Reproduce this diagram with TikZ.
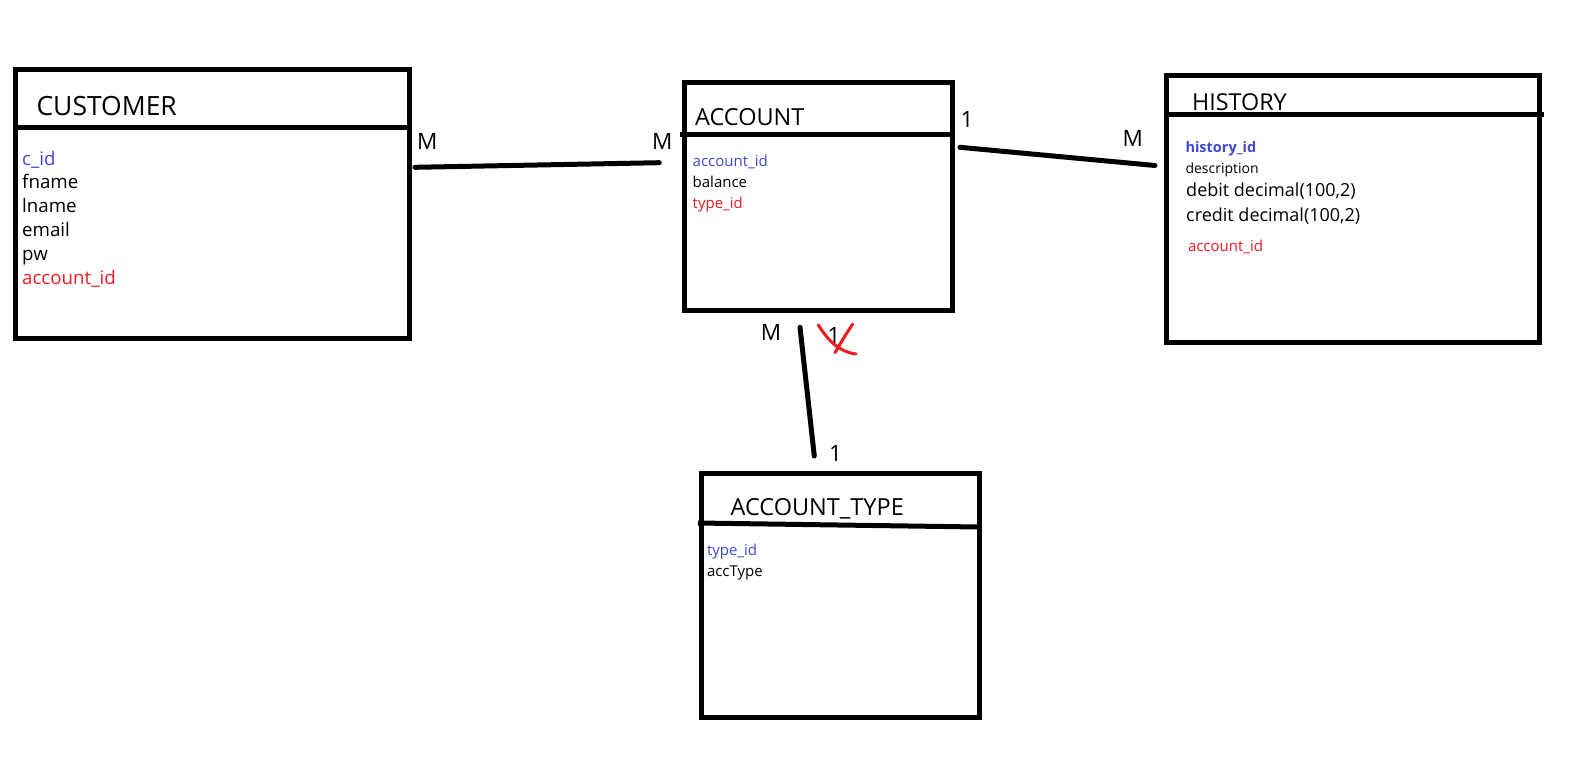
\documentclass[tikz,border=0pt]{standalone}
\usepackage{fontspec}
\setmainfont{Open Sans}
\definecolor{pkblue}{RGB}{63,72,204}
\definecolor{fkred}{RGB}{237,28,36}
\tikzset{
  tbl/.style={draw, line width=5pt, rectangle, inner sep=0pt, outer sep=0pt, anchor=north west},
  divider/.style={line width=5pt},
  rel/.style={line width=5pt, line cap=round},
  card/.style={anchor=base west, inner sep=0pt, font=\fontsize{22.5}{26}\selectfont},
  ttl/.style={anchor=base west, inner sep=0pt},
  attr/.style={anchor=base west, inner sep=0pt},
  cross/.style={draw=fkred, line width=3pt, line cap=round},
}
\begin{document}
\begin{tikzpicture}[x=1pt,y=-1pt]
\useasboundingbox (0,0) rectangle (1586,761);

% ---------- CUSTOMER ----------
\node[tbl, minimum width=393.7pt, minimum height=268.7pt] (cust) at (15.3,69.3) {};
\draw[divider] (cust.west |- 0,127.7) -- (cust.east |- 0,127.7);
\node[ttl, font=\fontsize{26.5}{30}\selectfont] (custT) at (36.3,115) {CUSTOMER};
\begin{scope}[every node/.style={attr, font=\fontsize{18.7}{22}\selectfont}]
\node[text=pkblue] (c1) at (22,165) {c\_id};
\node (c2) at (22,188.7) {fname};
\node (c3) at (22,212.5) {lname};
\node (c4) at (22,236.3) {email};
\node (c5) at (22,260.5) {pw};
\node[text=fkred] (c6) at (22,284.7) {account\_id};
\end{scope}

% ---------- ACCOUNT ----------
\node[tbl, minimum width=267.3pt, minimum height=228pt] (acc) at (684.7,82) {};
\draw[divider] (680,134) -- (acc.east |- 0,134);
\node[ttl, font=\fontsize{23.5}{27}\selectfont] (accT) at (695,125) {ACCOUNT};
\begin{scope}[every node/.style={attr, font=\fontsize{15}{18}\selectfont}]
\node[text=pkblue] (a1) at (692.5,166.7) {account\_id};
\node (a2) at (692.5,187.8) {balance};
\node[text=fkred] (a3) at (692.5,208.5) {type\_id};
\end{scope}

% ---------- HISTORY ----------
\node[tbl, minimum width=372.5pt, minimum height=266.2pt] (hist) at (1166.5,75.8) {};
\draw[divider] (hist.west |- 0,114) -- (1544,114);
\node[ttl, font=\fontsize{23.3}{27}\selectfont] (histT) at (1192,110) {HISTORY};
\node[attr, text=pkblue, font=\bfseries\fontsize{14.5}{17}\selectfont] (h1) at (1185.3,152.7) {history\_id};
\node[attr, font=\fontsize{14}{16}\selectfont] (h2) at (1185.3,173.3) {description};
\node[attr, font=\fontsize{18}{21}\selectfont] (h3) at (1186,196.7) {debit decimal(100,2)};
\node[attr, font=\fontsize{18}{21}\selectfont] (h4) at (1186,221.7) {credit decimal(100,2)};
\node[attr, text=fkred, font=\fontsize{15}{18}\selectfont] (h5) at (1187.8,251.7) {account\_id};

% ---------- ACCOUNT_TYPE ----------
\node[tbl, minimum width=277.3pt, minimum height=244pt] (atype) at (701.7,473) {};
\draw[divider] (698,523) -- (atype.east |- 0,527);
\node[ttl, font=\fontsize{23.5}{27}\selectfont] (atT) at (730.5,515) {ACCOUNT\_TYPE};
\begin{scope}[every node/.style={attr, font=\fontsize{15}{18}\selectfont}]
\node[text=pkblue] (t1) at (706.8,555.5) {type\_id};
\node (t2) at (706.8,576.7) {accType};
\end{scope}

% ---------- relationships ----------
\coordinate (r1a) at (415,167.3);
\coordinate (r1b) at (659.3,162.7);
\draw[rel] (r1a) -- (r1b);
\coordinate (r2a) at (960,147.3);
\coordinate (r2b) at (1155,165.5);
\draw[rel] (r2a) -- (r2b);
\coordinate (r3a) at (800,327.3);
\coordinate (r3b) at (814.3,456);
\draw[rel] (r3a) -- (r3b);

% cardinalities
\node[card] (m1) at (417,149.3) {M};
\node[card] (m2) at (652,149.3) {M};
\node[card] (o1) at (960.5,127.3) {1};
\node[card] (m3) at (1122.3,146.7) {M};
\node[card] (m4) at (760.7,340.7) {M};
\node[card] (o2) at (827.5,343.5) {1};
\node[card] (o3) at (829,461.7) {1};

% red strike-through over the old "1"
\draw[cross] (818.3,325) .. controls (829,342) and (840,352) .. (856,354);
\draw[cross] (852.7,324) .. controls (846,334) and (840,344) .. (835,352.7);
\end{tikzpicture}
\end{document}
